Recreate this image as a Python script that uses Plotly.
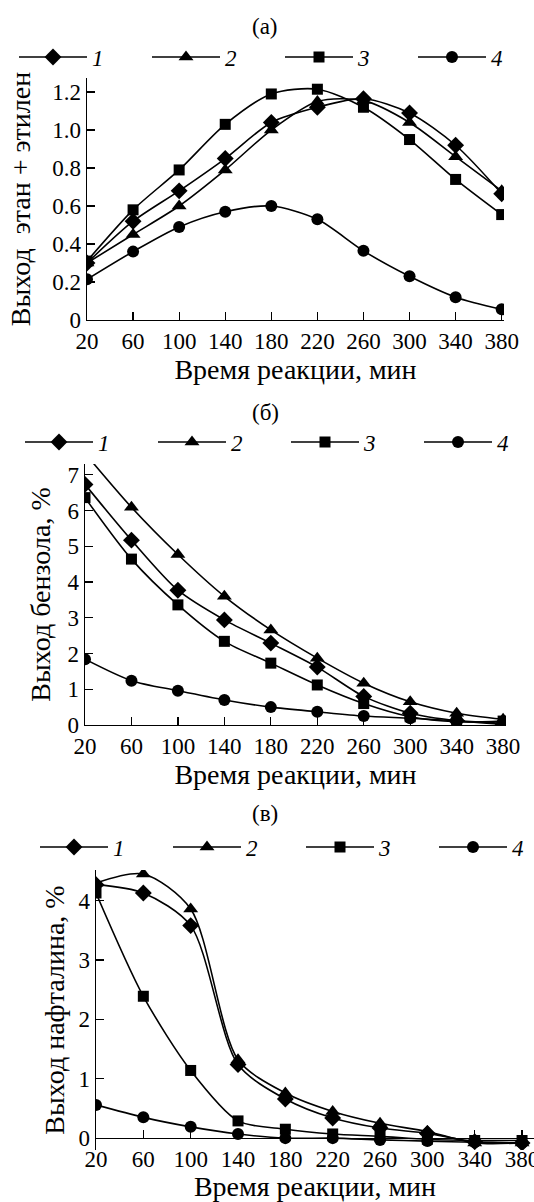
import plotly.graph_objects as go

W, H = 534, 1202

time_min = [20, 60, 100, 140, 180, 220, 260, 300, 340, 380]
tick_vals = [20, 60, 100, 140, 180, 220, 260, 300, 340, 380]
series_names = ["1", "2", "3", "4"]
symbols = ["diamond", "triangle-up", "square", "circle"]
sizes = [13, 13, 11, 12]

# (а) ethane + ethylene yield
a_1 = [0.30, 0.52, 0.68, 0.85, 1.04, 1.12, 1.165, 1.09, 0.92, 0.665]
a_2 = [0.30, 0.45, 0.60, 0.79, 1.00, 1.15, 1.155, 1.04, 0.86, 0.68]
a_3 = [0.31, 0.58, 0.79, 1.03, 1.19, 1.215, 1.12, 0.95, 0.74, 0.555]
a_4 = [0.214, 0.36, 0.49, 0.57, 0.60, 0.53, 0.364, 0.23, 0.12, 0.056]

# (б) benzene yield, %
b_1 = [6.73, 5.17, 3.77, 2.94, 2.29, 1.62, 0.80, 0.33, 0.12, 0.02]
b_2 = [7.6, 6.09, 4.77, 3.60, 2.66, 1.87, 1.17, 0.65, 0.33, 0.16]
b_3 = [6.36, 4.64, 3.36, 2.34, 1.73, 1.12, 0.60, 0.23, 0.09, 0.11]
b_4 = [1.84, 1.24, 0.96, 0.70, 0.50, 0.37, 0.25, 0.19, 0.12, 0.05]

# (в) naphthalene yield, %
c_1 = [4.27, 4.13, 3.58, 1.24, 0.66, 0.34, 0.17, 0.08, -0.06, -0.08]
c_2 = [4.30, 4.45, 3.86, 1.32, 0.76, 0.45, 0.25, 0.11, -0.08, -0.08]
c_3 = [4.13, 2.39, 1.14, 0.29, 0.15, 0.07, 0.03, -0.02, -0.04, -0.04]
c_4 = [0.56, 0.35, 0.19, 0.07, 0.0, 0.0, -0.03, -0.05, -0.07, -0.08]

panels = [
    ([a_1, a_2, a_3, a_4], "x", "y", "legend"),
    ([b_1, b_2, b_3, b_4], "x2", "y2", "legend2"),
    ([c_1, c_2, c_3, c_4], "x3", "y3", "legend3"),
]

FONT = '"Liberation Serif", "Times New Roman", "DejaVu Serif", serif'
FS = 23

def px_x(p):
    return p / W

def px_y(p):
    return (H - p) / H

fig = go.Figure()
for data, xa, ya, lg in panels:
    for name, sym, sz, vals in zip(series_names, symbols, sizes, data):
        fig.add_trace(go.Scatter(
            x=time_min, y=vals, name=name, xaxis=xa, yaxis=ya, legend=lg,
            mode="lines+markers",
            line=dict(color="black", width=1.6, shape="spline", smoothing=0.8),
            marker=dict(symbol=sym, size=sz, color="black"),
            cliponaxis=True,
        ))

axis_common = dict(
    showline=True, linecolor="black", linewidth=1.3, ticks="inside",
    ticklen=8, tickwidth=1.2, tickcolor="black", showgrid=False, zeroline=False,
    tickfont=dict(family=FONT, size=FS, color="black"), automargin=False,
)

xt = dict(tickmode="array", tickvals=tick_vals, ticktext=[str(v) for v in tick_vals],
          ticklabeloverflow="allow")
xtitle = "Время реакции, мин"

legend_common = dict(
    orientation="h", font=dict(family=FONT, size=FS, color="black", style="italic"),
    bgcolor="rgba(0,0,0,0)", itemwidth=68, entrywidth=50, entrywidthmode="pixels",
    yanchor="middle", xanchor="left", tracegroupgap=0, itemclick=False,
)

def label(text, x, y):
    return dict(text=text, x=px_x(x), y=px_y(y), xref="paper", yref="paper",
                xanchor="center", yanchor="middle", showarrow=False,
                font=dict(family=FONT, size=FS, color="black"))

fig.update_layout(
    width=W, height=H, margin=dict(l=0, r=0, t=0, b=0, autoexpand=False),
    paper_bgcolor="white", plot_bgcolor="white",
    font=dict(family=FONT, size=FS, color="black"),
    xaxis=dict(domain=[px_x(87), px_x(504)], range=[20, 382], anchor="y",
               title=dict(text=xtitle, standoff=2), **xt, **axis_common),
    yaxis=dict(domain=[px_y(320), px_y(78)], range=[0, 1.274], anchor="x",
               tickvals=[0, 0.2, 0.4, 0.6, 0.8, 1.0, 1.2],
               ticktext=["0", "0.2", "0.4", "0.6", "0.8", "1.0", "1.2"],
               title=dict(text="Выход  этан + этилен", standoff=13), **axis_common),
    xaxis2=dict(domain=[px_x(85), px_x(506)], range=[20, 382.5], anchor="y2",
                title=dict(text=xtitle, standoff=2), **xt, **axis_common),
    yaxis2=dict(domain=[px_y(725), px_y(464)], range=[0, 7.3], anchor="x2",
                tickvals=[0, 1, 2, 3, 4, 5, 6, 7],
                title=dict(text="Выход бензола, %", standoff=8), **axis_common),
    xaxis3=dict(domain=[px_x(96), 1.0], range=[20, 390.1], anchor="free",
                position=px_y(1138),
                title=dict(text=xtitle, standoff=0), **xt, **axis_common),
    yaxis3=dict(domain=[px_y(1150), px_y(870)], range=[-0.2, 4.517], anchor="x3",
                tickvals=[0, 1, 2, 3, 4],
                title=dict(text="Выход нафталина, %", standoff=5), **axis_common),
    legend=dict(x=px_x(14), y=px_y(57), **legend_common),
    legend2=dict(x=px_x(20), y=px_y(442), **legend_common),
    legend3=dict(x=px_x(35), y=px_y(847), **legend_common),
    annotations=[
        label("(а)", 265, 27),
        label("(б)", 265, 412),
        label("(в)", 265, 813),
    ],
)

fig.write_html(
    "out.html",
    config={"displayModeBar": False, "staticPlot": True},
    post_script="document.body.style.margin='0px';document.body.style.overflow='hidden';",
)
